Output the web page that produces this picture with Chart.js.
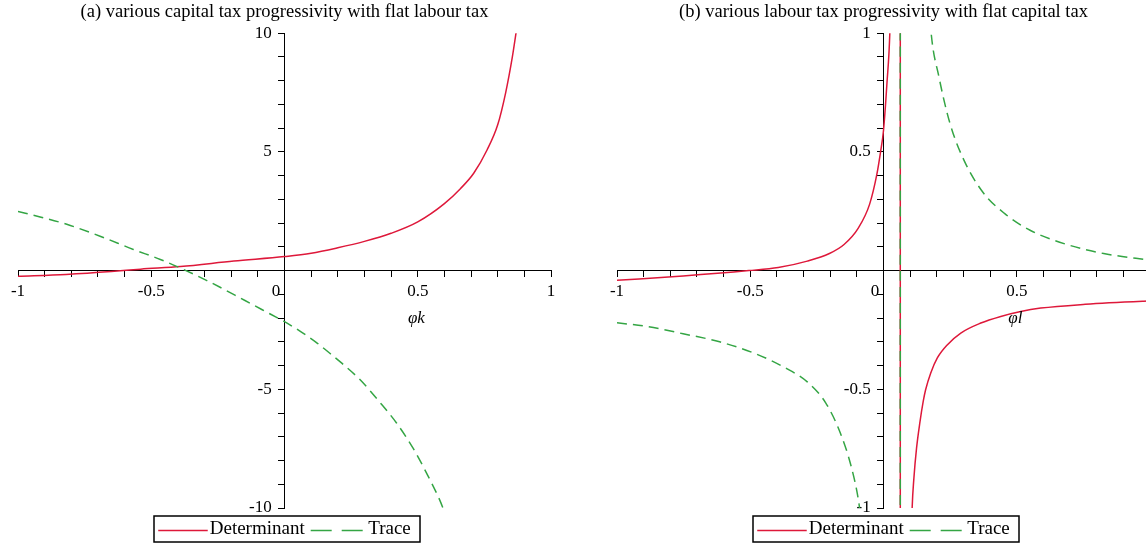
<!DOCTYPE html>
<html><head><meta charset="utf-8">
<script src="https://cdn.jsdelivr.net/npm/chart.js@4"></script>
<style>
html,body{margin:0;padding:0;background:#fff;overflow:hidden;width:1146px;height:544px;position:relative;}
canvas{position:absolute;top:0;}
#c1{left:0;} #c2{left:573px;}
</style></head><body>
<canvas id="c1" width="573" height="544"></canvas>
<canvas id="c2" width="600" height="544"></canvas>
<script>
// ---- texts ----
const titleA = '(a) various capital tax progressivity with flat labour tax';
const titleB = '(b) various labour tax progressivity with flat capital tax';
const seriesNames = ['Determinant', 'Trace'];
const axisTitleA = 'φk';
const axisTitleB = 'φl';

// ---- tick labels ----
const xTickValues = [-1, -0.5, 0, 0.5, 1];
const xTickLabels = ['-1', '-0.5', '0', '0.5', '1'];
const yTickValuesA = [-10, -5, 5, 10];
const yTickLabelsA = ['-10', '-5', '5', '10'];
const yTickValuesB = [-1, -0.5, 0.5, 1];
const yTickLabelsB = ['-1', '-0.5', '0.5', '1'];

// ---- panel (a): phi_k ----
const detA_x = [-1.0, -0.82, -0.65, -0.54, -0.39, -0.19, 0, 0.1, 0.2, 0.3, 0.4, 0.5, 0.6, 0.66, 0.71, 0.76, 0.8, 0.83, 0.855, 0.87];
const detA_y = [-0.24, -0.16, -0.04, 0.06, 0.17, 0.40, 0.59, 0.73, 0.96, 1.23, 1.57, 2.05, 2.82, 3.45, 4.1, 5.08, 6.14, 7.5, 9.0, 10.1];
const traceA_x = [-1.0, -0.917, -0.817, -0.692, -0.567, -0.466, -0.391, -0.291, -0.15, -0.05, 0, 0.065, 0.12, 0.17, 0.215, 0.283, 0.358, 0.421, 0.483, 0.534, 0.583, 0.598];
const traceA_y = [2.49, 2.26, 1.95, 1.45, 0.89, 0.47, 0.11, -0.42, -1.25, -1.85, -2.15, -2.6, -3.03, -3.48, -3.9, -4.59, -5.55, -6.43, -7.49, -8.55, -9.68, -10.1];

// ---- panel (b): phi_l (vertical jump at the asymptote near 0.063) ----
const detB_x = [-1, -0.752, -0.505, -0.395, -0.286, -0.203, -0.148, -0.094, -0.052, -0.025, -0.011, 0, 0.013, 0.024, 0.063, 0.063, 0.1075, 0.114, 0.124, 0.137, 0.149, 0.158, 0.177, 0.202, 0.24, 0.29, 0.365, 0.44, 0.515, 0.59, 0.757, 0.976, 1.0];
const detB_y = [-0.041, -0.023, 0, 0.013, 0.04, 0.072, 0.11, 0.18, 0.28, 0.405, 0.5, 0.59, 0.79, 1.01, 3, -3, -1.0, -0.875, -0.748, -0.636, -0.551, -0.502, -0.432, -0.368, -0.312, -0.263, -0.221, -0.193, -0.172, -0.158, -0.142, -0.129, -0.128];
const traceB_x = [-1, -0.889, -0.752, -0.615, -0.478, -0.368, -0.285, -0.217, -0.162, -0.121, -0.094, -0.089, 0.063, 0.063, 0.178, 0.208, 0.25, 0.304, 0.373, 0.455, 0.55, 0.688, 0.826, 0.976, 1.0];
const traceB_y = [-0.22, -0.235, -0.266, -0.30, -0.351, -0.41, -0.47, -0.557, -0.684, -0.826, -0.967, -1.01, -3, 3, 1.01, 0.816, 0.618, 0.46, 0.33, 0.24, 0.17, 0.11, 0.072, 0.048, 0.045];

// ---- styling ----
const FONT = "'Liberation Serif', 'Times New Roman', serif";
const RED = 'rgb(222, 24, 58)';
const GREEN = 'rgb(52, 165, 68)';
const PLOT_DASH = [10, 6];
const LEGEND_DASH = [21, 10];
const LEGEND_FONT = 19;
const LEGEND_BOX = 42;

function pts(xs, ys) { return xs.map((x, i) => ({x: x, y: ys[i]})); }
function lookup(v, vals, labels) {
  for (let i = 0; i < vals.length; i++) if (Math.abs(v - vals[i]) < 1e-6) return labels[i];
  return null;
}

const axisTitlePlugin = {
  id: 'axisTitle',
  afterDraw(chart, args, opts) {
    const {ctx, scales} = chart;
    ctx.save();
    ctx.font = 'italic 17px ' + FONT;
    ctx.fillStyle = '#000';
    ctx.textAlign = 'center';
    ctx.textBaseline = 'middle';
    ctx.fillText(opts.text, scales.x.getPixelForValue(opts.at), scales.y.getPixelForValue(0) + 48);
    ctx.restore();
  }
};

// draws the line samples (with their dash) and the frame round the legend
const legendBoxPlugin = {
  id: 'legendBox',
  afterDraw(chart) {
    const lg = chart.legend;
    if (!lg || !lg.legendHitBoxes || !lg.legendHitBoxes.length) return;
    const ctx = chart.ctx;
    let l = Infinity, t = Infinity, r = -Infinity, b = -Infinity;
    lg.legendHitBoxes.forEach((h, i) => {
      l = Math.min(l, h.left); t = Math.min(t, h.top);
      r = Math.max(r, h.left + h.width); b = Math.max(b, h.top + h.height);
      const item = lg.legendItems[i];
      const ds = chart.data.datasets[item.datasetIndex];
      const yMid = Math.round(h.top + h.height / 2) + 0.5;
      const x0 = h.left - (i === 0 ? 0 : 6);
      const x1 = h.left + LEGEND_BOX + LEGEND_FONT / 2 - 2;
      ctx.save();
      ctx.strokeStyle = ds.borderColor;
      ctx.lineWidth = 1.5;
      ctx.setLineDash(ds.borderDash ? LEGEND_DASH : []);
      ctx.beginPath();
      ctx.moveTo(x0, yMid);
      ctx.lineTo(x1, yMid);
      ctx.stroke();
      ctx.restore();
    });
    ctx.save();
    ctx.strokeStyle = '#000';
    ctx.lineWidth = 1.5;
    ctx.strokeRect(Math.round(l - 4), Math.round(t - 4), Math.round(r - l + 13), Math.round(b - t + 7));
    ctx.restore();
  }
};

function makeChart(id, o) {
  const tickFont = {family: FONT, size: 17};
  return new Chart(document.getElementById(id), {
    type: 'line',
    data: {
      datasets: [
        {label: seriesNames[0], data: pts(o.detX, o.detY), borderColor: RED, backgroundColor: RED,
         borderWidth: 1.5, pointRadius: 0, cubicInterpolationMode: 'monotone', fill: false, order: 1},
        {label: seriesNames[1], data: pts(o.trX, o.trY), borderColor: GREEN, backgroundColor: GREEN,
         borderWidth: 1.5, borderDash: PLOT_DASH, pointRadius: 0, cubicInterpolationMode: 'monotone', fill: false, order: 0}
      ]
    },
    options: {
      responsive: false,
      animation: false,
      devicePixelRatio: 1,
      events: [],
      layout: {padding: {left: o.padL, right: o.padR, top: 0, bottom: -5}},
      scales: {
        x: {
          type: 'linear', min: -1, max: 1, position: {y: 0},
          ticks: {stepSize: 0.1, autoSkip: false, maxRotation: 0, minRotation: 0, padding: 5,
                  color: '#000', font: tickFont,
                  callback: (v) => {
                    const s = lookup(v, xTickValues, xTickLabels);
                    if (s === null) return '';
                    return s === '0' ? '0\u2003' : s;
                  }},
          grid: {drawOnChartArea: false, drawTicks: true, tickLength: 6, color: '#000', lineWidth: 1},
          border: {display: true, color: '#000', width: 1}
        },
        y: {
          type: 'linear', min: o.yMin, max: o.yMax, position: {x: 0},
          ticks: {stepSize: o.yStep, autoSkip: false, color: '#000', font: tickFont,
                  callback: (v) => {
                    const s = lookup(v, o.yVals, o.yLabels);
                    return s === null ? '' : s + '   ';
                  }},
          grid: {drawOnChartArea: false, drawTicks: true, tickLength: 6, color: '#000', lineWidth: 1},
          border: {display: true, color: '#000', width: 1}
        }
      },
      plugins: {
        title: {display: true, text: o.title, fullSize: false, color: '#000',
                font: {family: FONT, size: 18.5, weight: 'normal'}, padding: {top: 1, bottom: 10}},
        legend: {position: 'bottom', fullSize: false,
                 labels: {usePointStyle: true, pointStyle: 'line', pointStyleWidth: LEGEND_BOX, padding: 12,
                          color: '#000', font: {family: FONT, size: LEGEND_FONT},
                          sort: (a, b) => a.datasetIndex - b.datasetIndex,
                          generateLabels: (chart) => Chart.defaults.plugins.legend.labels.generateLabels(chart)
                            .map(it => Object.assign({}, it, {strokeStyle: 'rgba(0,0,0,0)', fillStyle: 'rgba(0,0,0,0)', lineWidth: 0}))}},
        tooltip: {enabled: false},
        axisTitle: {text: o.axisTitle, at: 0.495}
      }
    },
    plugins: [axisTitlePlugin, legendBoxPlugin]
  });
}

makeChart('c1', {
  title: titleA, axisTitle: axisTitleA,
  detX: detA_x, detY: detA_y, trX: traceA_x, trY: traceA_y,
  yMin: -10, yMax: 10, yStep: 1, yVals: yTickValuesA, yLabels: yTickLabelsA,
  padL: 18, padR: 22
});
makeChart('c2', {
  title: titleB, axisTitle: axisTitleB,
  detX: detB_x, detY: detB_y, trX: traceB_x, trY: traceB_y,
  yMin: -1, yMax: 1, yStep: 0.1, yVals: yTickValuesB, yLabels: yTickLabelsB,
  padL: 44, padR: 23
});
</script>
</body></html>
